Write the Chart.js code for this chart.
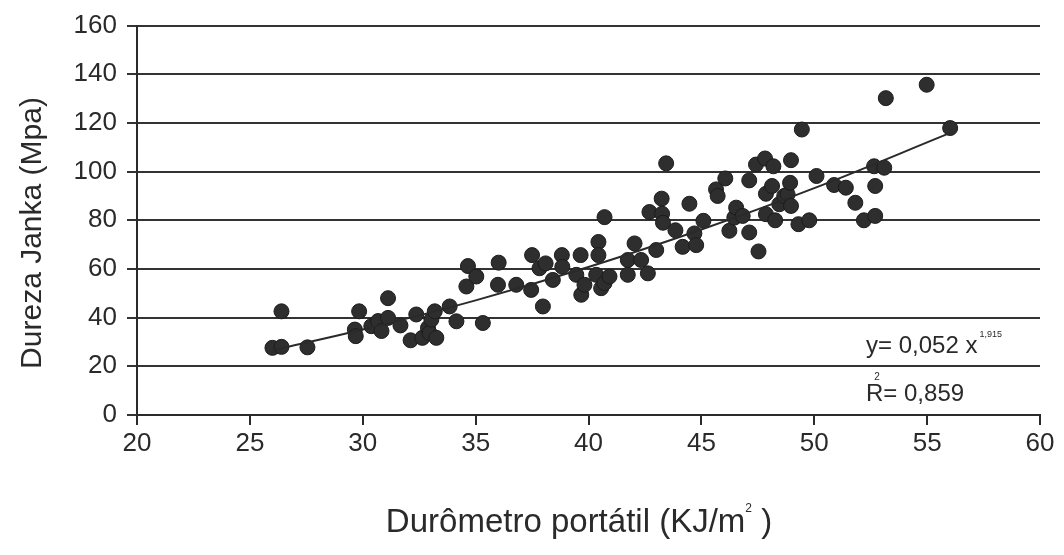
<!DOCTYPE html>
<html>
<head>
<meta charset="utf-8">
<script src="https://cdn.jsdelivr.net/npm/chart.js@4.4.0/dist/chart.umd.min.js"></script>
<style>
  html, body { margin: 0; padding: 0; background: #fff; }
  #chart { display: block; }
</style>
</head>
<body>
<canvas id="chart" width="1064" height="555"></canvas>
<script>
// Measured points (portable durometer vs Janka hardness)
const durometro = [
    26.0, 26.4, 26.4, 27.55, 29.65, 29.69, 29.84, 30.38, 30.68, 30.83, 31.12, 31.12, 31.67,
    32.12, 32.37, 32.64, 32.89, 32.96, 33.04, 33.19, 33.26, 33.85, 34.15, 34.59, 34.66,
    35.03, 35.32, 35.99, 36.02, 36.8, 37.46, 37.5, 37.83, 37.98, 38.1, 38.42, 38.82, 38.84,
    39.46, 39.65, 39.68, 39.82, 40.34, 40.44, 40.44, 40.56, 40.71, 40.71, 40.93, 41.74,
    41.74, 42.04, 42.33, 42.63, 42.7, 43.0, 43.24, 43.26, 43.3, 43.44, 43.85, 44.17, 44.47,
    44.69, 44.77, 45.09, 45.65, 45.72, 46.06, 46.24, 46.46, 46.54, 46.83, 47.12, 47.12,
    47.42, 47.53, 47.82, 47.86, 47.86, 48.13, 48.19, 48.27, 48.45, 48.67, 48.82, 48.93,
    48.97, 48.97, 49.3, 49.45, 49.78, 50.1, 50.88, 51.4, 51.82, 52.2, 52.65, 52.7, 52.7,
    53.1, 53.17, 54.98, 56.02
];
const janka = [
    27.6, 28.0, 42.6, 27.8, 35.1, 32.4, 42.6, 36.5, 38.6, 34.5, 48.0, 39.9, 36.8,
    30.7, 41.3, 31.7, 35.8, 33.7, 39.2, 42.6, 31.7, 44.6, 38.5, 52.8, 61.2,
    56.9, 37.8, 53.5, 62.6, 53.5, 51.4, 65.7, 60.3, 44.6, 62.3, 55.5, 65.7, 60.9,
    57.6, 65.7, 49.4, 53.5, 57.6, 71.1, 65.7, 52.1, 54.2, 81.3, 56.9, 63.7,
    57.6, 70.5, 63.7, 58.2, 83.4, 67.8, 88.9, 82.7, 79.0, 103.4, 75.9, 69.1, 86.8,
    74.6, 69.8, 79.8, 92.7, 90.0, 97.2, 75.7, 81.1, 85.2, 81.8, 96.4, 75.0,
    102.9, 67.2, 105.4, 82.5, 90.9, 94.1, 102.2, 80.0, 86.6, 90.0, 90.7, 95.4,
    104.7, 85.9, 78.4, 117.3, 80.0, 98.2, 94.5, 93.4, 87.2, 80.0, 102.2, 94.1, 81.8,
    101.6, 130.2, 135.7, 117.9
];

// Fitted power curve as drawn (y = 0,052 x^1,915)
const trendX = [26, 30, 35, 40, 45, 50, 56];
const trendY = [26.6, 35.1, 47.1, 60.8, 76.2, 93.2, 115.8];

const xTitle = ['Durômetro portátil (KJ/m', '2', ' )'];
const yTitle = 'Dureza Janka (Mpa)';
const eqText = ['y= 0,052 x', '1,915'];
const r2Text = ['R', '2', '= 0,859'];

const ink = '#2a2a2a';
const fontFamily = '"Liberation Sans", Arial, sans-serif';

const points = durometro.map((x, i) => ({ x: x, y: janka[i] }));
const trend = trendX.map((x, i) => ({ x: x, y: trendY[i] }));

// axis titles (with superscript) + equation and R² in the lower right corner
const textLayer = {
    id: 'textLayer',
    afterDraw(chart) {
        const ctx = chart.ctx;
        const area = chart.chartArea;
        ctx.save();
        ctx.fillStyle = ink;
        ctx.textBaseline = 'alphabetic';
        ctx.textAlign = 'left';

        // x title
        ctx.font = '33px ' + fontFamily;
        const w1 = ctx.measureText(xTitle[0]).width;
        const w3 = ctx.measureText(xTitle[2]).width;
        ctx.font = '12px ' + fontFamily;
        const w2 = ctx.measureText(xTitle[1]).width;
        let tx = 579 - (w1 + w2 + w3) / 2;
        const ty = 532;
        ctx.font = '33px ' + fontFamily;
        ctx.fillText(xTitle[0], tx, ty);
        ctx.font = '12px ' + fontFamily;
        ctx.fillText(xTitle[1], tx + w1, ty - 20);
        ctx.font = '33px ' + fontFamily;
        ctx.fillText(xTitle[2], tx + w1 + w2, ty);

        // y title
        ctx.save();
        ctx.translate(41, 233);
        ctx.rotate(-Math.PI / 2);
        ctx.textAlign = 'center';
        ctx.font = '30px ' + fontFamily;
        ctx.fillText(yTitle, 0, 0);
        ctx.restore();

        // equation
        const x0 = area.right - 174;
        ctx.font = '24px ' + fontFamily;
        ctx.fillText(eqText[0], x0, area.bottom - 62);
        const w = ctx.measureText(eqText[0]).width;
        ctx.font = '9px ' + fontFamily;
        ctx.fillText(eqText[1], x0 + w + 2, area.bottom - 78);

        ctx.font = '24px ' + fontFamily;
        ctx.fillText(r2Text[0], x0, area.bottom - 14);
        const rw = ctx.measureText(r2Text[0]).width;
        ctx.fillText(r2Text[2], x0 + rw, area.bottom - 14);
        ctx.font = '10px ' + fontFamily;
        ctx.fillText(r2Text[1], x0 + rw - 9, area.bottom - 35);
        ctx.restore();
    }
};

const ctx = document.getElementById('chart').getContext('2d');
new Chart(ctx, {
    type: 'scatter',
    data: {
        datasets: [{
            label: 'Dados',
            data: points,
            backgroundColor: '#2e2e2e',
            borderColor: '#1c1c1c',
            borderWidth: 1,
            pointRadius: 7.5,
            order: 2
        }, {
            label: 'Ajuste',
            type: 'line',
            data: trend,
            borderColor: ink,
            borderWidth: 2,
            pointRadius: 0,
            fill: false,
            tension: 0.4,
            order: 1
        }]
    },
    options: {
        responsive: false,
        animation: false,
        layout: { padding: { top: 24, right: 24, left: 0, bottom: 0 } },
        plugins: {
            legend: { display: false },
            tooltip: { enabled: false }
        },
        scales: {
            x: {
                type: 'linear',
                min: 20,
                max: 60,
                afterFit: (scale) => { scale.height = 140; },
                ticks: {
                    stepSize: 5,
                    color: ink,
                    padding: 3,
                    font: { family: fontFamily, size: 26 }
                },
                grid: {
                    drawOnChartArea: false,
                    drawTicks: true,
                    tickLength: 10,
                    color: ink,
                    lineWidth: 2
                },
                border: { display: true, color: ink, width: 2 }
            },
            y: {
                min: 0,
                max: 160,
                afterFit: (scale) => { scale.width = 137; },
                ticks: {
                    stepSize: 20,
                    color: ink,
                    padding: 10,
                    font: { family: fontFamily, size: 26 }
                },
                grid: {
                    color: '#333333',
                    lineWidth: 2,
                    tickLength: 10
                },
                border: { display: true, color: ink, width: 2 }
            }
        }
    },
    plugins: [textLayer]
});
</script>
</body>
</html>
